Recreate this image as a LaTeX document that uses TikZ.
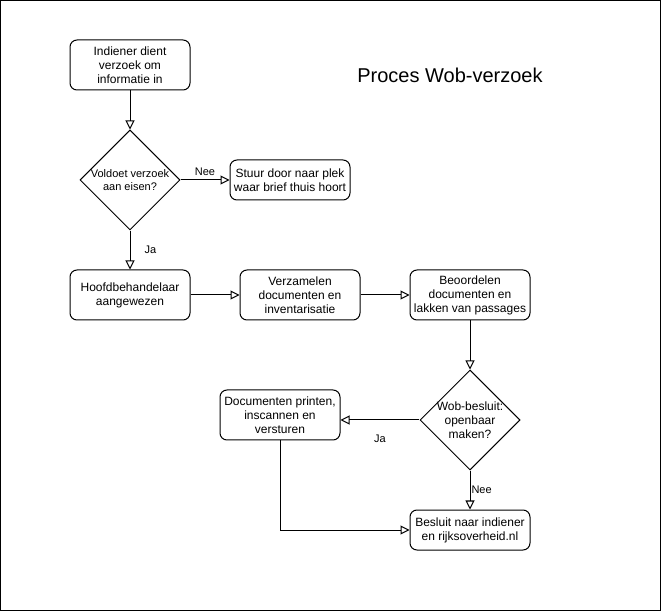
\documentclass[tikz,border=0pt]{standalone}
\usepackage{fontspec}
\setmainfont{Liberation Sans}
\usetikzlibrary{arrows.meta,positioning,shapes}
\tikzstyle{block} = [draw, fill=white, rectangle, rounded corners=7pt, align=center,
minimum height=50pt, minimum width=120pt, inner sep=0pt, font=\fontsize{12}{14}\selectfont]
\tikzstyle{test} = [draw, fill=white, diamond, align=center, inner sep=0pt,
minimum height=100pt, minimum width=100pt]
\tikzstyle{tag} = [font=\fontsize{11}{13}\selectfont, inner sep=1pt]

\begin{document}
\begin{tikzpicture}[x=1pt, y=-1pt, node distance=115pt, line width=1pt, >={Triangle[open,length=9pt,width=9pt]}]
	\useasboundingbox (0,0) rectangle (662,612);
	\draw (0.5,0.5) rectangle (660.5,610.5);
	\node [font=\fontsize{20}{24}\selectfont] (Title) at (450,75) {Proces Wob-verzoek};
	\node [block] (Submit) at (130,65) {Indiener dient\\verzoek om\\informatie in};
	\node [test, below of=Submit, font=\fontsize{11}{13}\selectfont] (Check) {Voldoet verzoek\\aan eisen?};
	\node [block, right of=Check, node distance=160pt, minimum height=40pt] (Forward) {Stuur door naar plek\\waar brief thuis hoort};
	\node [block, below of=Check] (Lead) {Hoofdbehandelaar\\aangewezen};
	\node [block, right of=Lead, node distance=170pt] (Collect) {Verzamelen\\documenten en\\inventarisatie};
	\node [block, right of=Collect, node distance=170pt] (Assess) {Beoordelen\\documenten en\\lakken van passages};
	\node [test, below of=Assess, node distance=125pt, inner sep=-1.5pt, font=\fontsize{12}{14}\selectfont] (Decide) {Wob-besluit:\\openbaar\\maken?};
	\node [block, left of=Decide, node distance=190pt, yshift=5pt] (Print) {Documenten printen,\\inscannen en\\versturen};
	\node [block, below of=Decide, node distance=110pt, minimum height=40pt] (Result) {Besluit naar indiener\\en rijksoverheid.nl};
	
	\draw [->] (Submit) -- (Check);
	\draw [->] (Check) -- node [tag, above=3pt] {Nee} (Forward);
	\draw [->] (Check) -- node [tag, right=13pt] {Ja} (Lead);
	\draw [->] (Lead) -- (Collect);
	\draw [->] (Collect) -- (Assess);
	\draw [->] (Assess) -- (Decide);
	\draw [->] (Decide) -- node [tag, below=13pt] {Ja} (Decide -| Print.east);
	\draw [->] (Decide) -- node [tag, right=0pt] {Nee} (Result);
	\draw [->] (Print) |- (Result);
	
\end{tikzpicture}
\end{document}
